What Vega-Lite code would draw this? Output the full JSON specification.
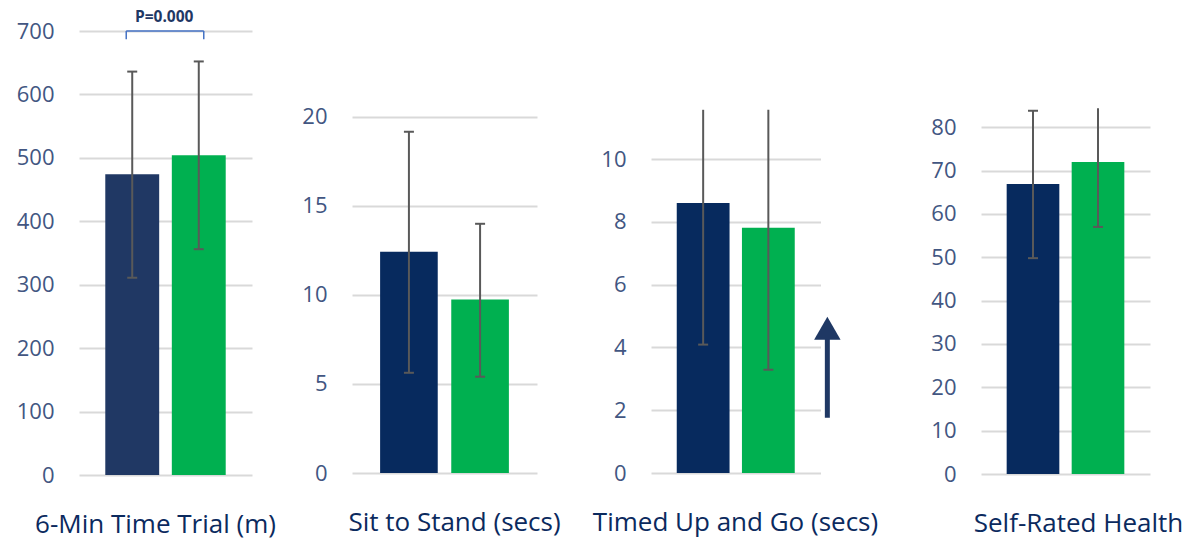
{
  "$schema": "https://vega.github.io/schema/vega-lite/v6.json",
  "background": "white",
  "padding": {"left": 16, "top": 10, "right": 5, "bottom": 5},
  "config": {
    "font": "Open Sans",
    "view": {"stroke": null},
    "axisY": {"labelFont": "Open Sans", "labelFontSize": 22, "labelColor": "#425682", "labelPadding": 25, "ticks": false, "domain": false, "grid": true, "gridColor": "#d9d9d9", "gridWidth": 2},
    "axisX": {"labels": false, "ticks": false, "domain": false, "grid": false, "titleFont": "Open Sans", "titleFontSize": 26, "titleFontWeight": "normal", "titleColor": "#0b2a5e", "titleBaseline": "alphabetic", "titlePadding": 57}
  },
  "datasets": {
    "m": [
      {"panel": "6MW", "group": "Pre", "mean": 474, "lo": 311, "hi": 636, "cap": 636},
      {"panel": "6MW", "group": "Post", "mean": 504, "lo": 356, "hi": 652, "cap": 652},
      {"panel": "STS", "group": "Pre", "mean": 12.43, "lo": 5.63, "hi": 19.17, "cap": 19.17},
      {"panel": "STS", "group": "Post", "mean": 9.74, "lo": 5.41, "hi": 14.0, "cap": 14.0},
      {"panel": "TUG", "group": "Pre", "mean": 8.6, "lo": 4.09, "hi": 11.57, "cap": null},
      {"panel": "TUG", "group": "Post", "mean": 7.81, "lo": 3.29, "hi": 11.57, "cap": null},
      {"panel": "SRH", "group": "Pre", "mean": 66.9, "lo": 49.8, "hi": 83.8, "cap": 83.8},
      {"panel": "SRH", "group": "Post", "mean": 72.0, "lo": 57.0, "hi": 84.4, "cap": null}
    ],
    "bracketH": [{"group": "Pre", "g2": "Post", "y": 700}],
    "bracketV": [{"group": "Pre", "y": 700, "y2": 687}, {"group": "Post", "y": 700, "y2": 687}],
    "ptext": [{"group": "Pre", "label": "P=0.000", "y": 722}],
    "arrow": [{"group": "Post", "y0": 1.76, "y1": 4.3, "head": 4.61}]
  },
  "resolve": {"scale": {"x": "independent", "y": "independent", "color": "independent"}},
  "bounds": "flush",
  "spacing": 100,
  "hconcat": [
    {
      "width": 173, "height": 444,
      "encoding": {"x": {"field": "group", "type": "nominal", "sort": ["Pre", "Post"], "scale": {"domain": ["Pre", "Post"], "paddingInner": 0.19, "paddingOuter": 0.395}, "axis": {"title": "6-Min Time Trial (m)", "titleX": 76}}},
      "layer": [
        {
          "data": {"name": "m"},
          "transform": [{"filter": "datum.panel === '6MW'"}],
          "layer": [
            {"mark": {"type": "bar"}, "encoding": {"y": {"field": "mean", "type": "quantitative", "scale": {"domain": [0, 700], "nice": false}, "axis": {"values": [0, 100, 200, 300, 400, 500, 600, 700]}, "title": null}, "color": {"field": "group", "type": "nominal", "scale": {"domain": ["Pre", "Post"], "range": ["#203864", "#00b050"]}, "legend": null}}},
            {"mark": {"type": "rule", "color": "#595959", "strokeWidth": 2}, "encoding": {"y": {"field": "lo", "type": "quantitative", "title": null}, "y2": {"field": "hi"}}},
            {"mark": {"type": "tick", "color": "#595959", "size": 10, "thickness": 2, "opacity": 1}, "encoding": {"y": {"field": "lo", "type": "quantitative", "title": null}}},
            {"mark": {"type": "tick", "color": "#595959", "size": 10, "thickness": 2, "opacity": 1}, "encoding": {"y": {"field": "cap", "type": "quantitative", "title": null}}}
          ]
        },
        {
          "data": {"name": "bracketH"},
          "mark": {"type": "rule", "color": "#4472c4", "strokeWidth": 1.5, "xOffset": -6, "x2Offset": 5},
          "encoding": {"x2": {"field": "g2"}, "y": {"field": "y", "type": "quantitative", "title": null}}
        },
        {
          "data": {"name": "bracketV"},
          "transform": [{"filter": "datum.group === 'Pre'"}],
          "mark": {"type": "rule", "color": "#4472c4", "strokeWidth": 1.5, "xOffset": -6},
          "encoding": {"y": {"field": "y", "type": "quantitative", "title": null}, "y2": {"field": "y2"}}
        },
        {
          "data": {"name": "bracketV"},
          "transform": [{"filter": "datum.group === 'Post'"}],
          "mark": {"type": "rule", "color": "#4472c4", "strokeWidth": 1.5, "xOffset": 5},
          "encoding": {"y": {"field": "y", "type": "quantitative", "title": null}, "y2": {"field": "y2"}}
        },
        {
          "data": {"name": "ptext"},
          "mark": {"type": "text", "font": "Open Sans", "fontSize": 15.5, "fontWeight": "bold", "color": "#1f3864", "baseline": "middle", "xOffset": 32},
          "encoding": {"y": {"field": "y", "type": "quantitative", "title": null}, "text": {"field": "label"}}
        }
      ]
    },
    {
      "width": 199, "height": 442,
      "data": {"name": "m"},
      "transform": [{"filter": "datum.panel === 'STS'"}],
      "encoding": {"x": {"field": "group", "type": "nominal", "sort": ["Pre", "Post"], "scale": {"domain": ["Pre", "Post"], "paddingInner": 0.19, "paddingOuter": 0.395, "range": [0, 185]}, "axis": {"title": "Sit to Stand (secs)", "titleX": 102}}},
      "layer": [
        {"mark": {"type": "bar"}, "encoding": {"y": {"field": "mean", "type": "quantitative", "scale": {"domain": [0, 24.83], "nice": false}, "axis": {"values": [0, 5, 10, 15, 20]}, "title": null}, "color": {"field": "group", "type": "nominal", "scale": {"domain": ["Pre", "Post"], "range": ["#072a5e", "#00b050"]}, "legend": null}}},
        {"mark": {"type": "rule", "color": "#595959", "strokeWidth": 2}, "encoding": {"y": {"field": "lo", "type": "quantitative", "title": null}, "y2": {"field": "hi"}}},
        {"mark": {"type": "tick", "color": "#595959", "size": 10, "thickness": 2, "opacity": 1}, "encoding": {"y": {"field": "lo", "type": "quantitative", "title": null}}},
        {"mark": {"type": "tick", "color": "#595959", "size": 10, "thickness": 2, "opacity": 1}, "encoding": {"y": {"field": "cap", "type": "quantitative", "title": null}}}
      ]
    },
    {
      "width": 230, "height": 442,
      "encoding": {"x": {"field": "group", "type": "nominal", "sort": ["Pre", "Post"], "scale": {"domain": ["Pre", "Post"], "paddingInner": 0.19, "paddingOuter": 0.395, "range": [0, 169.5]}, "axis": {"title": "Timed Up and Go (secs)", "titleX": 84}}},
      "layer": [
        {
          "data": {"name": "m"},
          "transform": [{"filter": "datum.panel === 'TUG'"}],
          "layer": [
            {"mark": {"type": "bar"}, "encoding": {"y": {"field": "mean", "type": "quantitative", "scale": {"domain": [0, 14.08], "nice": false}, "axis": {"values": [0, 2, 4, 6, 8, 10]}, "title": null}, "color": {"field": "group", "type": "nominal", "scale": {"domain": ["Pre", "Post"], "range": ["#072a5e", "#00b050"]}, "legend": null}}},
            {"mark": {"type": "rule", "color": "#595959", "strokeWidth": 2}, "encoding": {"y": {"field": "lo", "type": "quantitative", "title": null}, "y2": {"field": "hi"}}},
            {"mark": {"type": "tick", "color": "#595959", "size": 10, "thickness": 2, "opacity": 1}, "encoding": {"y": {"field": "lo", "type": "quantitative", "title": null}}},
            {"mark": {"type": "tick", "color": "#595959", "size": 10, "thickness": 2, "opacity": 1}, "encoding": {"y": {"field": "cap", "type": "quantitative", "title": null}}}
          ]
        },
        {
          "data": {"name": "arrow"},
          "layer": [
            {"mark": {"type": "rule", "color": "#1f3864", "strokeWidth": 5, "xOffset": 59}, "encoding": {"y": {"field": "y0", "type": "quantitative", "title": null}, "y2": {"field": "y1"}}},
            {"mark": {"type": "point", "shape": "triangle-up", "filled": true, "color": "#1f3864", "opacity": 1, "size": 700, "xOffset": 59}, "encoding": {"y": {"field": "head", "type": "quantitative", "title": null}}}
          ]
        }
      ]
    },
    {
      "width": 169, "height": 443,
      "data": {"name": "m"},
      "transform": [{"filter": "datum.panel === 'SRH'"}],
      "encoding": {"x": {"field": "group", "type": "nominal", "sort": ["Pre", "Post"], "scale": {"domain": ["Pre", "Post"], "paddingInner": 0.19, "paddingOuter": 0.395}, "axis": {"title": "Self-Rated Health", "titleX": 97}}},
      "layer": [
        {"mark": {"type": "bar"}, "encoding": {"y": {"field": "mean", "type": "quantitative", "scale": {"domain": [0, 102.2], "nice": false}, "axis": {"values": [0, 10, 20, 30, 40, 50, 60, 70, 80]}, "title": null}, "color": {"field": "group", "type": "nominal", "scale": {"domain": ["Pre", "Post"], "range": ["#072a5e", "#00b050"]}, "legend": null}}},
        {"mark": {"type": "rule", "color": "#595959", "strokeWidth": 2}, "encoding": {"y": {"field": "lo", "type": "quantitative", "title": null}, "y2": {"field": "hi"}}},
        {"mark": {"type": "tick", "color": "#595959", "size": 10, "thickness": 2, "opacity": 1}, "encoding": {"y": {"field": "lo", "type": "quantitative", "title": null}}},
        {"mark": {"type": "tick", "color": "#595959", "size": 10, "thickness": 2, "opacity": 1}, "encoding": {"y": {"field": "cap", "type": "quantitative", "title": null}}}
      ]
    }
  ]
}
